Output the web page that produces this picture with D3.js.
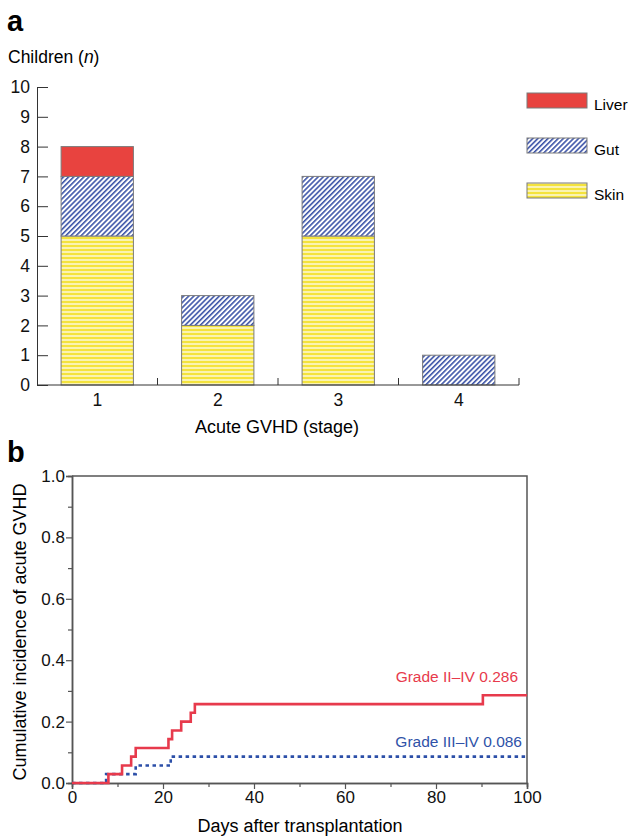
<!DOCTYPE html>
<html>
<head>
<meta charset="utf-8">
<script src="https://cdn.jsdelivr.net/npm/d3@7"></script>
<style>
  body { margin: 0; background: #fff; }
  svg { display: block; font-family: "Liberation Sans", Arial, sans-serif; }
</style>
</head>
<body>
<svg id="chart" width="628" height="837"></svg>
<script>
// panel a: children per stage
var stages = ["1", "2", "3", "4"];
var skinCounts = [5, 2, 5, 0];
var gutCounts = [2, 1, 2, 1];
var liverCounts = [1, 0, 0, 0];
var yTicksA = [0, 1, 2, 3, 4, 5, 6, 7, 8, 9, 10];
var legendKeys = ["liver", "gut", "skin"];
var legendNames = ["Liver", "Gut", "Skin"];

// panel b: cumulative incidence
var gradeIIDays = [0, 8, 11, 13, 14, 21.2, 22, 24, 26.1, 27, 90.3, 100];
var gradeIIVals = [0, 0.029, 0.057, 0.086, 0.114, 0.143, 0.171, 0.2, 0.229, 0.257, 0.286, 0.286];
var gradeIIIDays = [0, 7.5, 14, 21.7, 100];
var gradeIIIVals = [0, 0.029, 0.057, 0.086, 0.086];
var yMajorB = [0, 0.2, 0.4, 0.6, 0.8, 1.0];
var yMinorB = [0.1, 0.3, 0.5, 0.7, 0.9];
var xMajorB = [0, 20, 40, 60, 80, 100];
var xMinorB = [10, 30, 50, 70, 90];

var svg = d3.select("#chart");
var defs = svg.append("defs");
var fontFam = "Liberation Sans, Arial, sans-serif";

// hatch for gut
var hatch = defs.append("pattern")
    .attr("id", "hatchGut")
    .attr("patternUnits", "userSpaceOnUse")
    .attr("width", 3.6).attr("height", 3.6)
    .attr("patternTransform", "rotate(45)");
hatch.append("rect").attr("width", 3.6).attr("height", 3.6).attr("fill", "#fff");
hatch.append("rect").attr("width", 1.6).attr("height", 3.6).attr("fill", "#3d55a8");

// stripes for skin
var stripes = defs.append("pattern")
    .attr("id", "stripeSkin")
    .attr("patternUnits", "userSpaceOnUse")
    .attr("width", 8).attr("height", 4);
stripes.append("rect").attr("width", 8).attr("height", 4).attr("fill", "#fff");
stripes.append("rect").attr("y", 0.6).attr("width", 8).attr("height", 2.8).attr("fill", "#f4e33c");

var fills = {liver: "#e8433f", gut: "url(#hatchGut)", skin: "url(#stripeSkin)"};

// ---------- panel a ----------
svg.append("text").attr("x", 7).attr("y", 31)
    .attr("font-size", 29).attr("font-weight", "bold").text("a");
var ylab = svg.append("text").attr("x", 8).attr("y", 63).attr("font-size", 17.5);
ylab.append("tspan").text("Children (");
ylab.append("tspan").attr("font-style", "italic").text("n");
ylab.append("tspan").text(")");

var xA = d3.scaleBand().domain(stages).range([37, 519])
    .paddingInner(0.4).paddingOuter(0.2);
var yA = d3.scaleLinear().domain([0, 10]).range([385, 87]);

var rows = stages.map(function(s, i){
  return {stage: s, skin: skinCounts[i], gut: gutCounts[i], liver: liverCounts[i]};
});
var stacked = d3.stack().keys(["skin", "gut", "liver"])(rows);

var gA = svg.append("g");
stacked.forEach(function(layer){
  gA.selectAll(".bar-" + layer.key)
    .data(layer.filter(function(d){ return d[1] > d[0]; }))
    .enter()
    .append("rect")
    .attr("class", "bar-" + layer.key)
    .attr("x", function(d){ return xA(d.data.stage); })
    .attr("width", xA.bandwidth())
    .attr("y", function(d){ return yA(d[1]); })
    .attr("height", function(d){ return yA(d[0]) - yA(d[1]); })
    .attr("fill", fills[layer.key])
    .attr("stroke", "#7a7a7a")
    .attr("stroke-width", 1);
});

var yAxisA = svg.append("g")
    .attr("transform", "translate(37,0)")
    .call(d3.axisLeft(yA).tickValues(yTicksA).tickSizeInner(-11).tickSizeOuter(0).tickPadding(7));
yAxisA.select(".domain").attr("stroke", "#333");
yAxisA.selectAll(".tick line").attr("stroke", "#333");
yAxisA.selectAll("text").attr("font-size", 17.5).attr("fill", "#111")
    .attr("font-family", fontFam);

var xAxisA = svg.append("g")
    .attr("transform", "translate(0,385)")
    .call(d3.axisBottom(xA).tickSize(0).tickPadding(9));
xAxisA.select(".domain").attr("stroke", "#333").attr("d", "M37,0H519");
xAxisA.selectAll("text").attr("font-size", 17.5).attr("fill", "#111")
    .attr("font-family", fontFam);
// boundary ticks between stages
var gapA = xA.step() - xA.bandwidth();
xAxisA.selectAll(".sep")
    .data(stages)
    .enter()
    .append("line")
    .attr("class", "sep")
    .attr("x1", function(d){ return xA(d) + xA.bandwidth() + gapA / 2; })
    .attr("x2", function(d){ return xA(d) + xA.bandwidth() + gapA / 2; })
    .attr("y1", 0).attr("y2", -7)
    .attr("stroke", "#333");

svg.append("text").attr("x", 277).attr("y", 433)
    .attr("text-anchor", "middle").attr("font-size", 18)
    .text("Acute GVHD (stage)");

// legend
var legend = svg.append("g").selectAll("g")
    .data(legendKeys)
    .enter()
    .append("g")
    .attr("transform", function(d, i){ return "translate(527," + (93 + i * 45) + ")"; });
legend.append("rect")
    .attr("width", 60).attr("height", 15)
    .attr("fill", function(d){ return fills[d]; })
    .attr("stroke", "#7a7a7a");
legend.append("text")
    .attr("x", 67).attr("y", 17)
    .attr("font-size", 15.5)
    .text(function(d, i){ return legendNames[i]; });

// ---------- panel b ----------
svg.append("text").attr("x", 7).attr("y", 462)
    .attr("font-size", 29).attr("font-weight", "bold").text("b");

var xB = d3.scaleLinear().domain([0, 100]).range([72, 527]);
var yB = d3.scaleLinear().domain([0, 1]).range([783, 476]);
var axisCol = "#555";

var yAxisB = svg.append("g").attr("transform", "translate(72,0)")
    .call(d3.axisLeft(yB).tickValues(yMajorB).tickFormat(d3.format(".1f")).tickSize(6).tickPadding(1));
var yMinAxisB = svg.append("g").attr("transform", "translate(72,0)")
    .call(d3.axisLeft(yB).tickValues(yMinorB).tickFormat("").tickSize(4));
var xAxisB = svg.append("g").attr("transform", "translate(0,783)")
    .call(d3.axisBottom(xB).tickValues(xMajorB).tickSize(6).tickPadding(2));
var xMinAxisB = svg.append("g").attr("transform", "translate(0,783)")
    .call(d3.axisBottom(xB).tickValues(xMinorB).tickFormat("").tickSize(4));
[yAxisB, yMinAxisB, xAxisB, xMinAxisB].forEach(function(ax){
  ax.select(".domain").attr("stroke", axisCol).attr("stroke-width", 1.5);
  ax.selectAll(".tick line").attr("stroke", axisCol).attr("stroke-width", 1.2);
  ax.selectAll("text").attr("font-size", 17).attr("fill", "#111")
      .attr("font-family", fontFam);
});
// frame top and right
svg.append("path")
    .attr("d", "M" + xB(0) + "," + yB(1) + "H" + xB(100) + "V" + yB(0))
    .attr("fill", "none").attr("stroke", axisCol).attr("stroke-width", 1.5);

var stepLine = d3.line()
    .x(function(d){ return xB(d[0]); })
    .y(function(d){ return yB(d[1]); })
    .curve(d3.curveStepAfter);

svg.append("path")
    .datum(d3.zip(gradeIIIDays, gradeIIIVals))
    .attr("d", stepLine)
    .attr("fill", "none")
    .attr("stroke", "#2c4fa8")
    .attr("stroke-width", 2.6)
    .attr("stroke-dasharray", "3.5,3.5");

svg.append("path")
    .datum(d3.zip(gradeIIDays, gradeIIVals))
    .attr("d", stepLine)
    .attr("fill", "none")
    .attr("stroke", "#e73a4c")
    .attr("stroke-width", 2.6);

svg.append("text").attr("x", 518).attr("y", 682)
    .attr("text-anchor", "end").attr("font-size", 15.5).attr("fill", "#e73a4c")
    .text("Grade II\u2013IV 0.286");
svg.append("text").attr("x", 522).attr("y", 747)
    .attr("text-anchor", "end").attr("font-size", 15.5).attr("fill", "#2f52a8")
    .text("Grade III\u2013IV 0.086");

svg.append("text")
    .attr("transform", "translate(26,632) rotate(-90)")
    .attr("text-anchor", "middle").attr("font-size", 18)
    .text("Cumulative incidence of acute GVHD");
svg.append("text").attr("x", 300).attr("y", 832)
    .attr("text-anchor", "middle").attr("font-size", 18)
    .text("Days after transplantation");
</script>
</body>
</html>
